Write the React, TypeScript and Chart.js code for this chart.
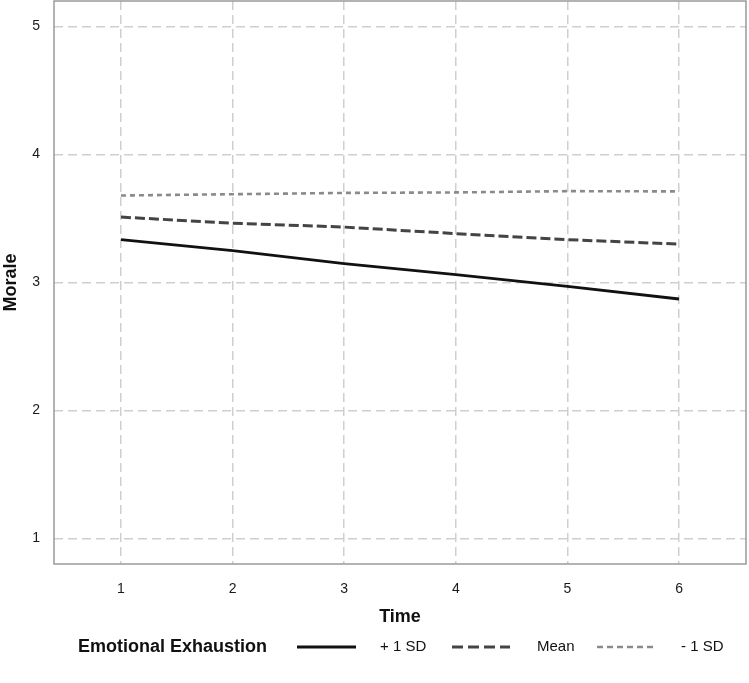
import React, { useEffect, useRef } from "react";
import { Chart, registerables } from "chart.js";

Chart.register(...registerables);

const times = [1, 2, 3, 4, 5, 6];
const plusOneSD = [3.335, 3.249, 3.148, 3.062, 2.97, 2.871];
const meanSeries = [3.511, 3.464, 3.433, 3.382, 3.335, 3.3];
const minusOneSD = [3.68, 3.69, 3.7, 3.704, 3.714, 3.712];
const seriesLabels = ["+ 1 SD", "Mean", "- 1 SD"];
const xTicks = [1, 2, 3, 4, 5, 6];
const yTicks = [1, 2, 3, 4, 5];
const legendTitle = "Emotional Exhaustion";
const xTitle = "Time";
const yTitle = "Morale";

const FONT = "'Liberation Sans', Arial, sans-serif";

const framePlugin = {
  id: "frame",
  afterDatasetsDraw(chart: any) {
    const { ctx, chartArea } = chart;
    ctx.save();
    ctx.strokeStyle = "#9a9a9a";
    ctx.lineWidth = 1.5;
    ctx.setLineDash([]);
    ctx.strokeRect(chartArea.left, chartArea.top, chartArea.right - chartArea.left, chartArea.bottom - chartArea.top);
    ctx.restore();
  },
};

const legendPlugin = {
  id: "customLegend",
  afterDraw(chart: any) {
    const ctx = chart.ctx;
    const y = 647;
    ctx.save();
    ctx.fillStyle = "#111";
    ctx.textBaseline = "middle";
    ctx.textAlign = "left";
    ctx.font = `bold 18px ${FONT}`;
    ctx.fillText(legendTitle, 78, y);
    const items = [
      { x1: 297, x2: 356, tx: 380 },
      { x1: 452, x2: 510, tx: 537 },
      { x1: 597, x2: 654, tx: 681 },
    ];
    chart.data.datasets.forEach((ds: any, i: number) => {
      const it = items[i];
      ctx.save();
      ctx.strokeStyle = ds.borderColor;
      ctx.lineWidth = ds.borderWidth;
      ctx.setLineDash(ds.legendDash || []);
      ctx.beginPath();
      ctx.moveTo(it.x1, y);
      ctx.lineTo(it.x2, y);
      ctx.stroke();
      ctx.restore();
      ctx.fillStyle = "#111";
      ctx.font = `15px ${FONT}`;
      ctx.fillText(ds.label, it.tx, y);
    });
    ctx.restore();
  },
};

export default function App() {
  const ref = useRef<HTMLCanvasElement | null>(null);

  useEffect(() => {
    if (!ref.current) return;
    const mk = (vals: number[]) => times.map((t, i) => ({ x: t, y: vals[i] }));
    const chart = new Chart(ref.current, {
      type: "line",
      data: {
        datasets: [
          {
            label: seriesLabels[0],
            data: mk(plusOneSD),
            borderColor: "#111111",
            borderWidth: 2.8,
            pointRadius: 0,
            tension: 0,
            legendDash: [],
          } as any,
          {
            label: seriesLabels[1],
            data: mk(meanSeries),
            borderColor: "#444444",
            borderWidth: 3,
            borderDash: [10, 4],
            pointRadius: 0,
            tension: 0,
            legendDash: [11, 5],
          } as any,
          {
            label: seriesLabels[2],
            data: mk(minusOneSD),
            borderColor: "#8a8a8a",
            borderWidth: 2.6,
            borderDash: [5, 4],
            pointRadius: 0,
            tension: 0,
            legendDash: [6, 4],
          } as any,
        ],
      },
      options: {
        responsive: false,
        animation: false,
        layout: { padding: { top: 1, right: 3, bottom: 0, left: 0 } },
        plugins: {
          legend: { display: false },
          tooltip: { enabled: false },
        },
        scales: {
          x: {
            type: "linear",
            min: 0.4,
            max: 6.6,
            afterBuildTicks: (axis: any) => {
              axis.ticks = xTicks.map((v) => ({ value: v }));
            },
            afterFit: (scale: any) => {
              scale.height = 119;
              scale.paddingLeft = 0;
              scale.paddingRight = 0;
            },
            grid: { color: "#cfcfcf", lineWidth: 1.5, drawTicks: false },
            border: { display: false, dash: [9, 5] },
            ticks: {
              padding: 17,
              color: "#1a1a1a",
              font: { family: FONT, size: 14 },
              maxRotation: 0,
              callback: (v: any) => String(v),
            },
            title: {
              display: true,
              text: xTitle,
              color: "#111",
              font: { family: FONT, size: 18, weight: "bold" },
              padding: { top: 0, bottom: 55 },
            },
          },
          y: {
            type: "linear",
            min: 0.8,
            max: 5.2,
            afterBuildTicks: (axis: any) => {
              axis.ticks = yTicks.map((v) => ({ value: v }));
            },
            afterFit: (scale: any) => {
              scale.width = 54;
              scale.paddingTop = 0;
              scale.paddingBottom = 0;
            },
            grid: { color: "#cfcfcf", lineWidth: 1.5, drawTicks: false },
            border: { display: false, dash: [9, 5] },
            ticks: {
              padding: 14,
              color: "#1a1a1a",
              font: { family: FONT, size: 14 },
              callback: (v: any) => String(v),
            },
            title: {
              display: true,
              text: yTitle,
              color: "#111",
              font: { family: FONT, size: 18, weight: "bold" },
              padding: { top: 0, bottom: 0 },
            },
          },
        },
      } as any,
      plugins: [framePlugin, legendPlugin],
    });
    return () => chart.destroy();
  }, []);

  return (
    <div style={{ position: "absolute", left: 0, top: 0, width: 749, height: 683, background: "#fff" }}>
      <canvas ref={ref} width={749} height={683} style={{ display: "block" }} />
    </div>
  );
}
